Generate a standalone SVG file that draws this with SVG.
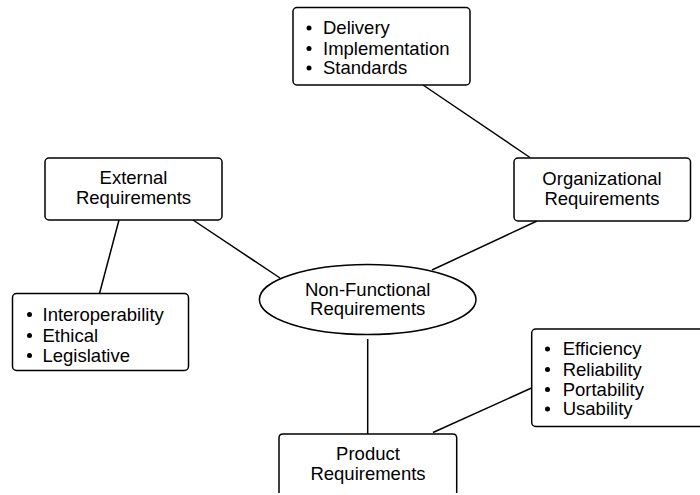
<svg xmlns="http://www.w3.org/2000/svg" width="700" height="495" viewBox="0 0 700 495">
<style>
.box{fill:#fff;stroke:#000;stroke-width:1.5}
.ln{stroke:#000;stroke-width:1.5;fill:none}
text{font-family:"Liberation Sans",Arial,sans-serif;font-size:18.5px;fill:#000}
.c{text-anchor:middle}
.b{fill:#000}
</style>
<rect width="700" height="495" fill="#fff"/>
<g id="connectors">
<line class="ln" x1="423" y1="85" x2="530" y2="157.5"/>
<line class="ln" x1="537" y1="221" x2="432" y2="270"/>
<line class="ln" x1="193" y1="220" x2="280" y2="278"/>
<line class="ln" x1="119" y1="220" x2="99.5" y2="293.5"/>
<line class="ln" x1="367.7" y1="339" x2="367.7" y2="434"/>
<line class="ln" x1="433" y1="432.5" x2="531.5" y2="388"/>
</g>
<g id="delivery-box">
<rect class="box" x="293" y="7.5" width="177" height="77.5" rx="4"/>
<circle class="b" cx="309" cy="28" r="2.5"/>
<circle class="b" cx="309" cy="48.5" r="2.5"/>
<circle class="b" cx="309" cy="68" r="2.5"/>
<text x="323" y="34">Delivery</text>
<text x="323" y="54.5">Implementation</text>
<text x="323" y="74">Standards</text>
</g>
<g id="organizational">
<rect class="box" x="514" y="158" width="176.5" height="63" rx="4"/>
<text class="c" x="602" y="185">Organizational</text>
<text class="c" x="602" y="205">Requirements</text>
</g>
<g id="external">
<rect class="box" x="45" y="158" width="177" height="62" rx="4"/>
<text class="c" x="133.5" y="184">External</text>
<text class="c" x="133.5" y="204">Requirements</text>
</g>
<g id="external-list">
<rect class="box" x="12.5" y="293.5" width="176" height="77" rx="4"/>
<circle class="b" cx="29.5" cy="314.5" r="2.5"/>
<circle class="b" cx="29.5" cy="335.5" r="2.5"/>
<circle class="b" cx="29.5" cy="355.5" r="2.5"/>
<text x="42.5" y="320.7">Interoperability</text>
<text x="42.5" y="341.5">Ethical</text>
<text x="42.5" y="361.5">Legislative</text>
</g>
<g id="nfr">
<ellipse class="box" cx="367.7" cy="299.5" rx="108.3" ry="35"/>
<text class="c" x="367.7" y="295.7">Non-Functional</text>
<text class="c" x="367.7" y="315">Requirements</text>
</g>
<g id="product-list">
<rect class="box" x="531.7" y="329" width="180" height="97.5" rx="4"/>
<circle class="b" cx="547.5" cy="349" r="2.5"/>
<circle class="b" cx="547.5" cy="369.5" r="2.5"/>
<circle class="b" cx="547.5" cy="389.5" r="2.5"/>
<circle class="b" cx="547.5" cy="409" r="2.5"/>
<text x="562.7" y="355">Efficiency</text>
<text x="562.7" y="375.5">Reliability</text>
<text x="562.7" y="395.5">Portability</text>
<text x="562.7" y="415">Usability</text>
</g>
<g id="product">
<path class="box" d="M279,493 V438 Q279,434 283,434 H452.7 Q456.7,434 456.7,438 V493"/>
<text class="c" x="368" y="459.5">Product</text>
<text class="c" x="368" y="480">Requirements</text>
</g>
</svg>
